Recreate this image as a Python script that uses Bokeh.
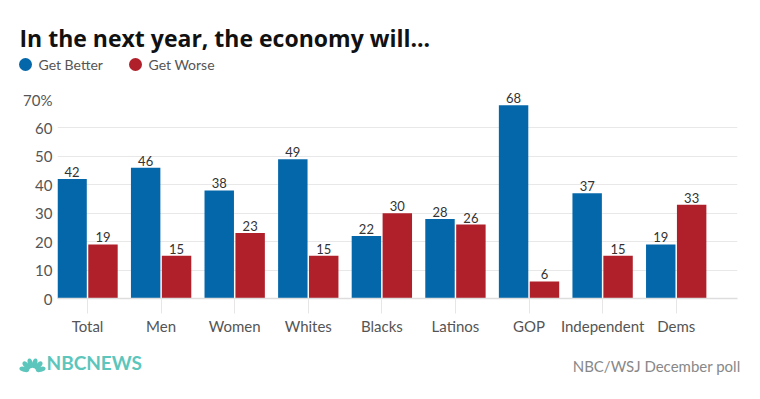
import numpy as np
from bokeh.plotting import figure
from bokeh.models import Range1d, FixedTicker, ColumnDataSource
from bokeh.embed import file_html
from bokeh.resources import INLINE
from bokeh.core.properties import value

categories = ["Total", "Men", "Women", "Whites", "Blacks", "Latinos", "GOP", "Independent", "Dems"]
get_better = [42, 46, 38, 49, 22, 28, 68, 37, 19]
get_worse = [19, 15, 23, 15, 30, 26, 6, 15, 33]
y_ticks = [0, 10, 20, 30, 40, 50, 60, 70]
y_tick_labels = ["0", "10", "20", "30", "40", "50", "60", "70%"]
series_names = ["Get Better", "Get Worse"]
series_colors = ["#0467aa", "#b0202b"]
title_text = "In the next year, the economy will..."
source_text = "NBC/WSJ December poll"
logo_text = "NBCNEWS"

FONT = "Lato"
W, H = 760, 399
FL, FR, FT, FB = 57, 737, 99, 298  # frame edges in page pixels

idx = np.arange(len(categories))
src = ColumnDataSource(dict(
    xb=idx - 0.21, xw=idx + 0.21, better=get_better, worse=get_worse,
    lb=[str(v) for v in get_better], lw=[str(v) for v in get_worse]))

p = figure(width=W, height=H, x_range=Range1d(-0.408, 8.833), y_range=Range1d(0, 70),
           output_backend="svg", toolbar_location=None,
           min_border_left=FL, min_border_right=W - FR, min_border_top=FT, min_border_bottom=H - FB)
p.outline_line_color = None
p.background_fill_color = "white"
p.border_fill_color = "white"

# pixel-space ranges for decorations outside the frame (title, legend, footer)
p.extra_x_ranges = {"px": Range1d(FL, FR)}
p.extra_y_ranges = {"px": Range1d(FB, FT)}

p.vbar(x="xb", top="better", width=0.40, source=src, color=series_colors[0], line_color=None)
p.vbar(x="xw", top="worse", width=0.40, source=src, color=series_colors[1], line_color=None)

for xcol, ycol, tcol in [("xb", "better", "lb"), ("xw", "worse", "lw")]:
    p.text(x=xcol, y=ycol, text=tcol, source=src, y_offset=-2, level="overlay",
           text_align="center", text_baseline="bottom",
           text_font=value(FONT), text_font_size="13px", text_color="#333333")

p.xaxis.ticker = FixedTicker(ticks=list(idx))
p.xaxis.major_label_overrides = {int(i): c for i, c in zip(idx, categories)}
p.xaxis.axis_line_color = "#dddddd"
p.xaxis.axis_line_width = 1.5
p.xaxis.major_tick_out = 15
p.xaxis.major_tick_in = 0
p.xaxis.major_tick_line_color = "#e6e6e6"
p.xaxis.minor_tick_line_color = None
p.xaxis.major_label_standoff = 3
p.xaxis.major_label_text_font = FONT
p.xaxis.major_label_text_font_size = "15px"
p.xaxis.major_label_text_color = "#555555"

p.yaxis.ticker = FixedTicker(ticks=y_ticks)
p.yaxis.major_label_overrides = {t: l for t, l in zip(y_ticks, y_tick_labels)}
p.yaxis.axis_line_color = None
p.yaxis.major_tick_line_color = None
p.yaxis.major_tick_out = 0
p.yaxis.major_tick_in = 0
p.yaxis.minor_tick_line_color = None
p.yaxis.major_label_standoff = 5
p.yaxis.major_label_text_font = FONT
p.yaxis.major_label_text_font_size = "15px"
p.yaxis.major_label_text_color = "#555555"

p.xgrid.grid_line_color = None
p.ygrid.ticker = FixedTicker(ticks=y_ticks)
p.ygrid.grid_line_color = "#e8e8e8"

px = dict(x_range_name="px", y_range_name="px", level="overlay")

# title
p.text(x=[19], y=[37], text=[title_text], text_font=value("Open Sans"), text_font_style="bold",
       text_font_size="23px", text_color="#111111", text_baseline="alphabetic",
       text_align="left", **px)
# legend
p.ellipse(x=[25, 135], y=[64, 64], width=13, height=13, color=series_colors, line_color=None, **px)
p.text(x=[38, 148], y=[64, 64], text=series_names, text_font=value(FONT),
       text_font_size="14px", text_color="#555555", text_baseline="middle",
       text_align="left", **px)

# footer: logo + source
teal = "#5cc6bc"
angles = np.deg2rad([165, 135, 105, 75, 45, 15])
bx, by = 32, 371
p.ellipse(x=bx + 8.5 * np.cos(angles), y=by - 8.5 * np.sin(angles), width=10, height=5,
          angle=angles, color=teal, line_color=None, **px)
p.text(x=[46], y=[362], text=[logo_text], text_font=value(FONT), text_font_style="bold",
       text_font_size="19px", text_color=teal, text_baseline="middle", text_align="left", **px)
p.text(x=[740], y=[365], text=[source_text], text_font=value(FONT),
       text_font_size="15px", text_color="#888888", text_baseline="middle",
       text_align="right", **px)

open("out.html", "w").write(file_html(p, INLINE))
